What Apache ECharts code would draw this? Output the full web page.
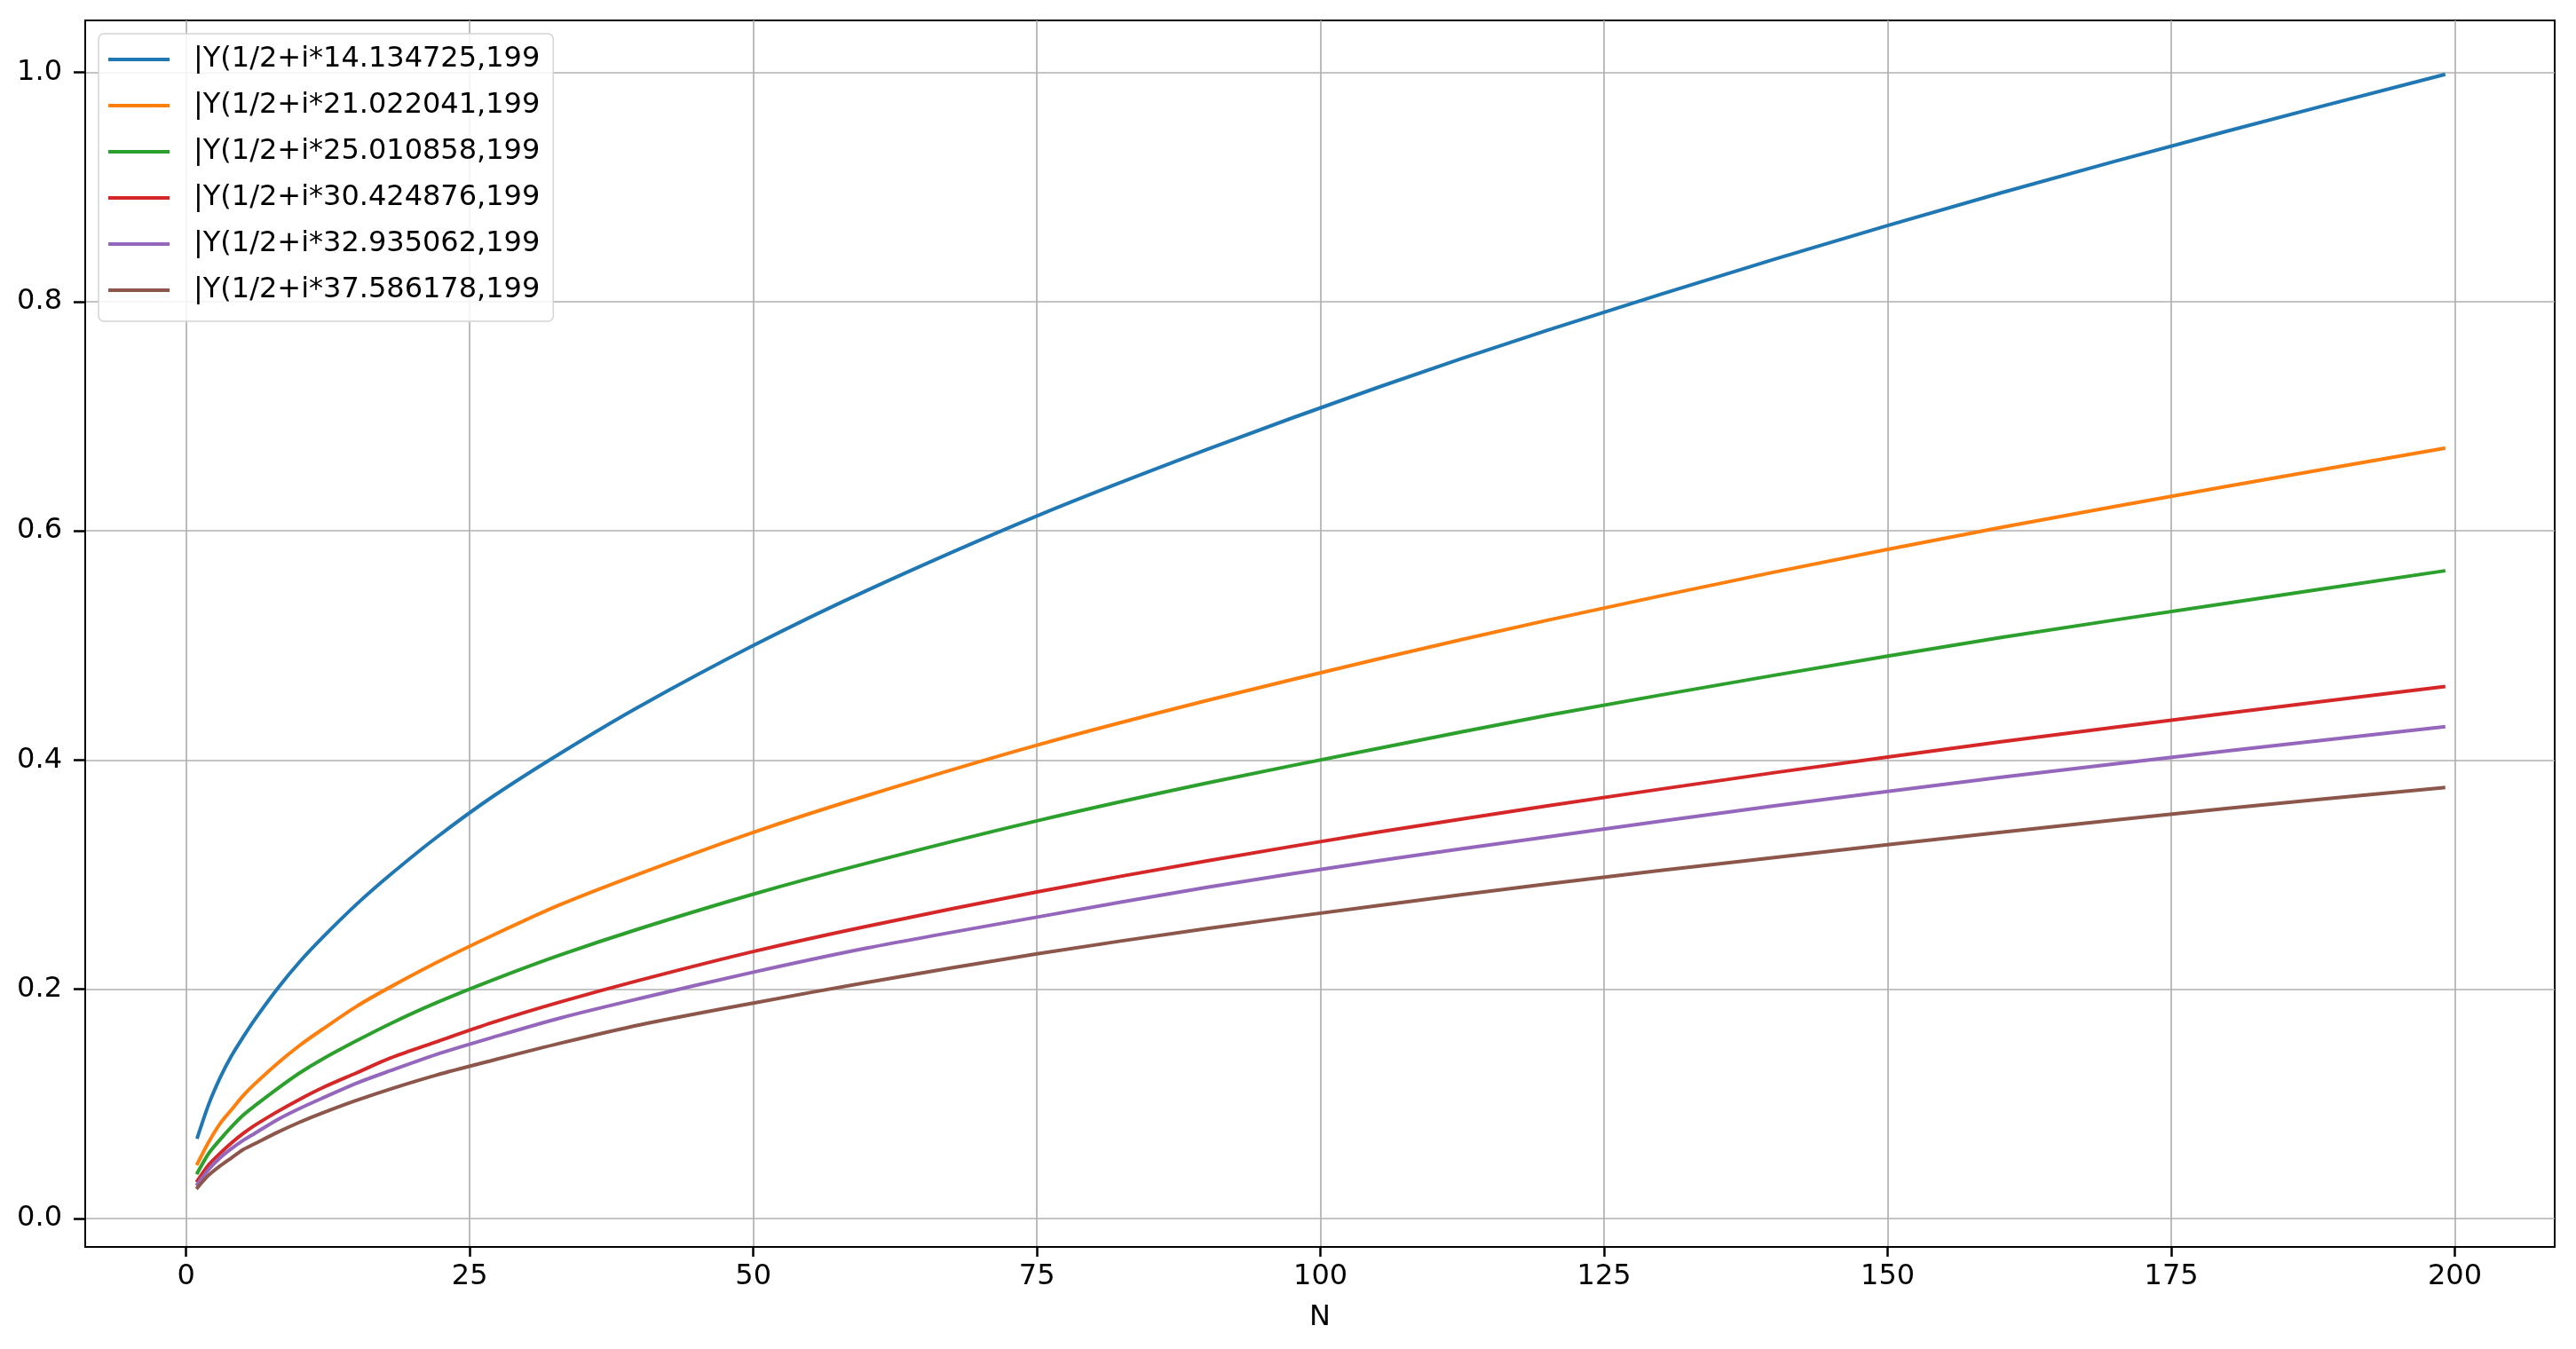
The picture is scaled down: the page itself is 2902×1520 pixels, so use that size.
<!DOCTYPE html>
<html>
<head>
<meta charset="utf-8">
<script src="https://cdn.jsdelivr.net/npm/echarts@6/dist/echarts.min.js"></script>
<style>
html,body{margin:0;padding:0;background:#fff;}
#chart{width:2902px;height:1520px;}
</style>
</head>
<body>
<div id="chart"></div>
<script>
// N values sampled along each curve
const nValues = [1,2,3,4,5,6,8,10,12,15,18,22,27,33,40,50,60,75,90,105,120,140,160,180,199];

const seriesNames = [
  '|Y(1/2+i*14.134725,199',
  '|Y(1/2+i*21.022041,199',
  '|Y(1/2+i*25.010858,199',
  '|Y(1/2+i*30.424876,199',
  '|Y(1/2+i*32.935062,199',
  '|Y(1/2+i*37.586178,199'
];

const valuesBlue   = [.071,.100,.123,.142,.158,.173,.200,.224,.245,.274,.300,.332,.368,.406,.447,.500,.548,.613,.671,.725,.775,.837,.895,.949,.998];
const valuesOrange = [.048,.067,.083,.095,.107,.117,.135,.151,.165,.185,.202,.223,.247,.274,.301,.337,.369,.413,.452,.488,.522,.564,.603,.639,.672];
const valuesGreen  = [.040,.057,.069,.080,.090,.098,.113,.127,.139,.155,.170,.188,.208,.230,.253,.283,.310,.347,.380,.410,.439,.474,.507,.537,.565];
const valuesRed    = [.033,.047,.057,.066,.074,.081,.093,.104,.114,.127,.140,.154,.171,.189,.208,.233,.255,.285,.312,.337,.360,.389,.416,.441,.464];
const valuesPurple = [.030,.043,.053,.061,.068,.074,.086,.096,.105,.118,.129,.143,.158,.175,.192,.215,.236,.263,.289,.312,.333,.360,.385,.408,.429];
const valuesBrown  = [.027,.038,.046,.053,.060,.065,.075,.084,.092,.103,.113,.125,.138,.153,.169,.188,.206,.231,.253,.273,.292,.315,.337,.358,.376];

const xTicks = [0,25,50,75,100,125,150,175,200];
const yTicks = [0,0.2,0.4,0.6,0.8,1.0];

const colors = ['#1f77b4','#ff7f0e','#2ca02c','#d62728','#9467bd','#8c564b'];
const allValues = [valuesBlue,valuesOrange,valuesGreen,valuesRed,valuesPurple,valuesBrown];

const FONT = 'DejaVu Sans';
const FS = 32;

const chart = echarts.init(document.getElementById('chart'), null, {renderer:'canvas'});

const series = allValues.map((vals, i) => ({
  name: seriesNames[i],
  type: 'line',
  data: nValues.map((n, k) => [n, vals[k]]),
  showSymbol: false,
  symbol: 'none',
  smooth: 0.3,
  lineStyle: {color: colors[i], width: 4, cap: 'square'},
  itemStyle: {color: colors[i]},
  animation: false,
  z: 3
}));

chart.setOption({
  animation: false,
  backgroundColor: '#ffffff',
  textStyle: {fontFamily: FONT},
  grid: {
    left: 96, right: 24, top: 23, bottom: 115,
    show: true, borderColor: '#000', borderWidth: 2, backgroundColor: 'transparent',
    containLabel: false
  },
  legend: {
    orient: 'vertical',
    left: 111, top: 38,
    padding: [13, 15, 19, 11],
    itemWidth: 69, itemHeight: 4,
    itemGap: 20,
    icon: 'rect',
    backgroundColor: 'rgba(255,255,255,0.85)',
    borderColor: '#d4d4d4', borderWidth: 1.5, borderRadius: 6,
    textStyle: {fontFamily: FONT, fontSize: FS, color: '#000', lineHeight: 30, padding: [0,0,0,22]},
    data: seriesNames,
    z: 10
  },
  xAxis: {
    type: 'value',
    min: -8.9, max: 208.8,
    name: 'N', nameLocation: 'middle', nameGap: 64,
    nameTextStyle: {fontFamily: FONT, fontSize: FS, color: '#000'},
    axisLine: {show: true, onZero: false, lineStyle: {color: '#000', width: 2}},
    axisTick: {show: true, inside: false, length: 11, lineStyle: {color: '#000', width: 2.5}, customValues: xTicks},
    axisLabel: {fontFamily: FONT, fontSize: FS, color: '#000', margin: 18, customValues: xTicks, formatter: v => String(v)},
    splitLine: {show: true, lineStyle: {color: '#b0b0b0', width: 1.7}}
  },
  yAxis: {
    type: 'value',
    min: -0.0248, max: 1.0454,
    axisLine: {show: true, onZero: false, lineStyle: {color: '#000', width: 2}},
    axisTick: {show: true, inside: false, length: 13, lineStyle: {color: '#000', width: 2.5}, customValues: yTicks},
    axisLabel: {fontFamily: FONT, fontSize: FS, color: '#000', margin: 26, customValues: yTicks, formatter: v => v.toFixed(1)},
    splitLine: {show: true, lineStyle: {color: '#b0b0b0', width: 1.7}}
  },
  series: series
});
</script>
</body>
</html>
